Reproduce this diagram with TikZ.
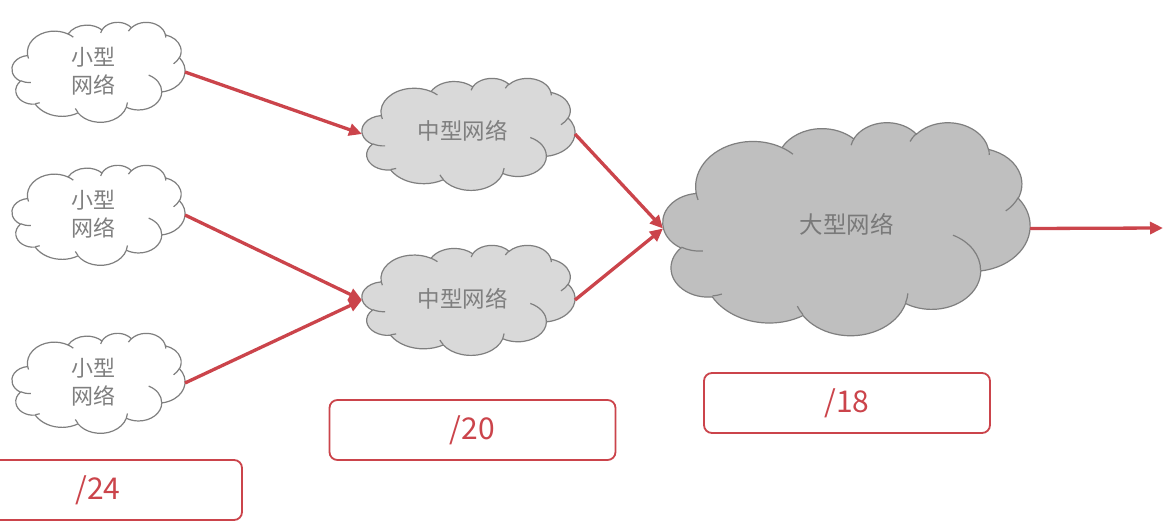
\documentclass[tikz,border=0pt]{standalone}
\usepackage{fontspec}
\setmainfont{Noto Sans CJK SC}
\usetikzlibrary{arrows.meta}
\definecolor{netred}{HTML}{CB444B}
\definecolor{cloudgray}{HTML}{7F7F7F}
\definecolor{midfill}{HTML}{D9D9D9}
\definecolor{bigfill}{HTML}{BFBFBF}
% elliptical arc in OOXML style (geometric angles, y down); units: thousandths of 43.2
\newcommand\ca[4]{arc[start angle={-atan2(#1*sin(#3),#2*cos(#3))}, delta angle={-mod(atan2(#1*sin(#3+#4),#2*cos(#3+#4))-atan2(#1*sin(#3),#2*cos(#3))+720,360)}, x radius={#1*\cw*1pt}, y radius={#2*\ch*1pt}]}
\newcommand\pc[2]{({\cx+#1*\cw},{\cy+#2*\ch})}
\newcommand\pptcloud[6]{%
  \def\cx{#1}\def\cy{#2}%
  \pgfmathsetmacro\cw{#3/43.2}%
  \pgfmathsetmacro\ch{#4/43.2}%
  \node[cloudbox, minimum width=#3pt, minimum height=#4pt] (#6) at ({#1+#3/2},{#2+#4/2}) {};
  \filldraw[cloudline, fill=#5] \pc{3.900}{14.370}
    \ca{6.753}{9.190}{-190.4875}{123.7805}
    \ca{5.333}{7.267}{-144.1024}{89.9452}
    \ca{4.365}{5.945}{-145.8079}{99.7230}
    \ca{4.857}{6.595}{-130.9861}{117.2417}
    \ca{5.333}{7.273}{-78.7089}{109.0269}
    \ca{6.775}{9.220}{-46.2673}{130.2690}
    \ca{5.785}{7.867}{0.6250}{114.0333}
    \ca{6.752}{9.215}{22.4516}{115.1726}
    \ca{7.720}{10.543}{66.2426}{75.7110}
    \ca{4.360}{5.918}{-274.9421}{146.7356}
    \ca{4.345}{5.945}{-246.8285}{152.5189} -- cycle;
  \draw[cloudline]
    \pc{4.693}{26.177} \ca{4.345}{5.945}{86.7420}{26.4295}
    \pc{6.928}{34.899} \ca{4.360}{5.918}{73.6105}{11.4475}
    \pc{16.478}{39.090} \ca{6.752}{9.215}{137.6242}{14.0811}
    \pc{28.827}{34.751} \ca{6.752}{9.215}{6.4533}{15.9984}
    \pc{34.129}{22.954} \ca{5.785}{7.867}{-70.2924}{70.9174}
    \pc{41.798}{15.354} \ca{5.333}{7.273}{30.3180}{27.7515}
    \pc{38.324}{5.426} \ca{4.857}{6.595}{-13.7443}{14.8589}
    \pc{29.078}{3.952} \ca{4.857}{6.595}{-149.1815}{18.1954}
    \pc{22.141}{4.720} \ca{4.365}{5.945}{-163.4943}{17.6864}
    \pc{14.000}{5.192} \ca{6.753}{9.190}{-66.7070}{12.3194}
    \pc{4.127}{15.789} \ca{6.753}{9.190}{157.6544}{11.8582};
}
\tikzset{
  cloudbox/.style={inner sep=0pt, outer sep=0pt, draw=none},
  cloudline/.style={draw=cloudgray, line width=1.2pt},
  smalltxt/.style={text=cloudgray, align=center, font=\fontsize{22}{28}\selectfont},
  midtxt/.style={text=cloudgray, font=\fontsize{22.5}{26}\selectfont},
  bigtxt/.style={text=cloudgray!95!black, font=\fontsize{23.5}{27}\selectfont},
  lbl/.style={draw=netred, line width=1.8pt, rounded corners=8pt, text=netred,
    font=\fontsize{30}{34}\selectfont, minimum height=60pt, inner sep=0pt},
  arr/.style={draw=netred, line width=3.3pt, -{Triangle[length=13pt,width=12pt]}},
}
\begin{document}
\begin{tikzpicture}[x=1pt,y=-1pt]
\useasboundingbox (0,0) rectangle (1163,527);
\clip (0,0) rectangle (1163,527);
\fill[white] (0,0) rectangle (1163,527);
% small clouds
\pptcloud{12}{22}{173}{100}{white}{s1}
\pptcloud{12}{165}{173}{100}{white}{s2}
\pptcloud{12}{333}{173}{100}{white}{s3}
% medium clouds
\pptcloud{362}{78}{213}{112}{midfill}{m1}
\pptcloud{362}{245}{213}{110}{midfill}{m2}
% big cloud
\pptcloud{663}{122}{367}{213}{bigfill}{big}
% texts
\node[smalltxt] (ts1) at ([xshift=-5pt,yshift=1pt]s1.center) {小型\\网络};
\node[smalltxt] (ts2) at ([xshift=-5pt,yshift=1pt]s2.center) {小型\\网络};
\node[smalltxt] (ts3) at ([xshift=-5pt,yshift=1pt]s3.center) {小型\\网络};
\node[midtxt] (tm1) at ([xshift=-6pt,yshift=3pt]m1.center) {中型网络};
\node[midtxt] (tm2) at ([xshift=-6pt,yshift=1pt]m2.center) {中型网络};
\node[bigtxt] (tb) at ([yshift=4pt]big.center) {大型网络};
% prefix boxes
\node[lbl, minimum width=288pt] (b24) at (98,490) {/24};
\node[lbl, minimum width=286pt] (b20) at (472.5,430) {/20};
\node[lbl, minimum width=286pt] (b18) at (847,403) {/18};
% connectors
\coordinate (out) at (1163,228);
\draw[arr] (s1.east) -- (m1.west);
\draw[arr] (s2.east) -- (m2.west);
\draw[arr] (s3.east) -- (m2.west);
\draw[arr] (m1.east) -- (big.west);
\draw[arr] (m2.east) -- (big.west);
\draw[arr] (big.east) -- (out);
\end{tikzpicture}
\end{document}
